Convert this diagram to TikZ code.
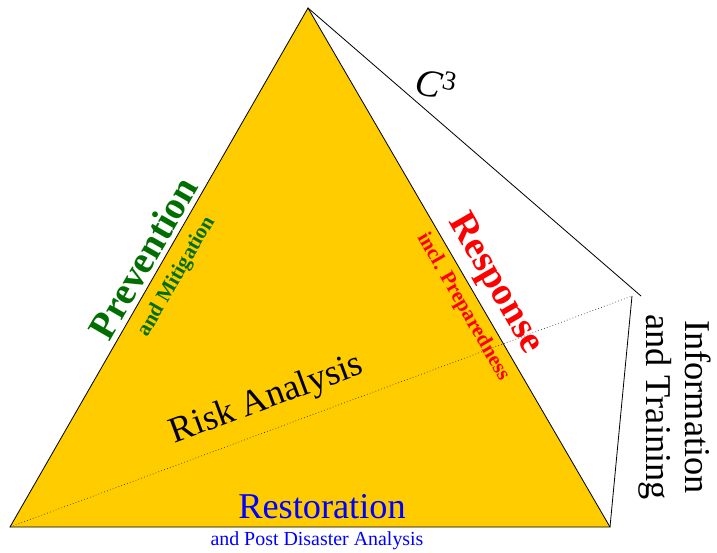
\documentclass[tikz,border=0pt]{standalone}
\usepackage{fontspec}
\setmainfont{Liberation Serif}
\definecolor{triyellow}{RGB}{255,204,0}
\definecolor{prevgreen}{RGB}{0,110,0}
\tikzset{
  biglabel/.style={inner sep=0pt, font=\bfseries\fontsize{33}{36}\selectfont},
  smalllabel/.style={inner sep=0pt, font=\bfseries\fontsize{18}{20}\selectfont},
  edge/.style={line width=0.7pt},
}
\begin{document}
\begin{tikzpicture}[x=0.03cm, y=-0.03cm]
            \useasboundingbox (0,0) rectangle (717,553);

            % 四个顶点
            \coordinate (A) at (10,527);   % 左下
            \coordinate (B) at (308,8);    % 顶点
            \coordinate (C) at (610,527);  % 右下
            \coordinate (D) at (632,296);  % 后方顶点
            \coordinate (Dtop) at (641,296);

            % 填充黄色三角形
            \fill[triyellow] (A) -- (B) -- (C) -- cycle;
            \draw[edge] (A) -- (B) -- (C) -- cycle;

            % 后方的棱
            \draw[edge] (B) -- (Dtop);
            \draw[edge] (D) -- (C);
            \draw[dotted, line width=0.6pt, black!80] (A) -- (D);

            % 三条边的标签
            \node[biglabel, prevgreen, rotate=60] (prev) at (143,258) {Prevention};
            \node[smalllabel, prevgreen, rotate=60] (mitig) at (177,277) {and Mitigation};
            \node[biglabel, red, rotate=-60] (resp) at (495,284) {Response};
            \node[smalllabel, red, rotate=-60] (prep) at (463,307) {incl. Preparedness};
            \node[inner sep=0pt, blue, anchor=base, font=\fontsize{31}{34}\selectfont] (rest) at (322,518) {Restoration};
            \node[inner sep=0pt, blue, anchor=base, font=\fontsize{17}{19}\selectfont] (post) at (317,545) {and Post Disaster Analysis};

            % 中间和右侧
            \node[inner sep=0pt, rotate=20.3, font=\fontsize{31}{34}\selectfont] (risk) at (267,400) {Risk Analysis};
            \node[inner sep=0pt, rotate=-90, align=center, font=\fontsize{31}{33}\selectfont] (info) at (675,407) {Information\\and Training};
            \node[inner sep=0pt, rotate=-12, font=\fontsize{33}{36}\selectfont] (ccc) at (436,84) {\textit{C}\textsuperscript{3}};
        \end{tikzpicture}
\end{document}
